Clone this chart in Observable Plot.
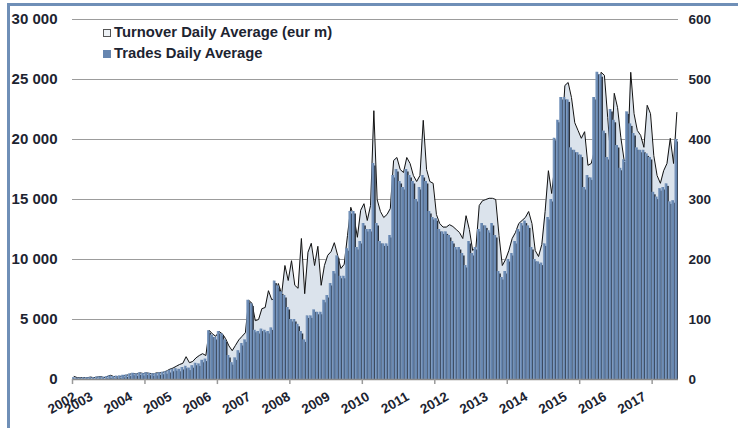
<!DOCTYPE html>
<html><head><meta charset="utf-8">
<script src="https://cdn.jsdelivr.net/npm/d3@7"></script>
<script src="https://cdn.jsdelivr.net/npm/@observablehq/plot@0.6"></script>
<style>
body{margin:0;background:#fff;}
#wrap{position:relative;width:738px;height:428px;overflow:hidden;font-family:"Liberation Sans",Arial,sans-serif;}
.frameTop{position:absolute;left:7px;top:3px;width:731px;height:3px;background:#6f8fb7;}
.frameLeft{position:absolute;left:7px;top:3px;width:3px;height:425px;background:#6f8fb7;}
.lg{position:absolute;left:103px;font-weight:bold;font-size:14.8px;color:#1d2431;height:20px;line-height:20px;white-space:nowrap;}
.sw{display:inline-block;width:8px;height:8px;margin-right:3px;box-sizing:border-box;}
</style></head>
<body><div id="wrap"><div class="frameTop"></div><div class="frameLeft"></div></div>
<script>
// Monthly series, Aug 2002 .. Dec 2017
const trades = [
150,120,130,150,160,
170,160,200,220,200,250,300,250,280,300,350,380,
450,520,480,550,500,560,520,480,500,560,600,650,
750,850,900,850,1000,1100,950,1150,1350,1300,1600,1700,
4050,3700,3500,4000,3800,3300,2000,1400,1800,2400,3000,3300,
6600,6300,4100,4000,4200,4100,4000,4300,8200,7800,7300,7000,
6000,5000,5000,4600,4000,3300,5300,5300,5800,5600,5600,6600,
7000,8000,9000,10300,8600,8600,10900,14000,14000,11000,11500,13000,
12500,12500,18000,13000,11500,11300,11300,12000,17000,17500,16500,16000,
17500,17000,16500,15000,16000,17000,16500,14000,13500,13400,12500,12300,
12300,12000,11500,11000,11000,10500,9500,11500,10500,11000,12500,13000,
12800,12400,13000,12000,9000,8500,9000,10000,10500,11500,12500,13000,
13200,12800,11000,10000,9800,9700,11300,13500,15000,20100,21600,23500,
23500,23300,19300,19100,18900,18700,16000,17000,16800,23500,25600,25400,
20700,18500,22500,21600,19500,17600,18300,22300,21300,20500,19300,19100,
19100,18800,18500,15600,15200,15900,16000,16300,14800,14900,20000
];
const turnover = [
5,3,3,3,3,
4,3,4,5,3,5,7,5,4,5,6,7,
9,10,9,11,10,11,10,9,11,11,12,14,
17,19,22,25,27,38,28,30,36,40,43,40,
82,76,72,80,76,68,56,48,57,66,72,78,
132,127,98,100,118,120,148,133,135,160,142,190,
165,198,157,152,235,143,212,227,190,222,157,190,
207,213,228,207,185,192,240,287,270,237,282,293,
265,290,448,300,280,270,275,285,365,370,350,345,
370,360,340,330,340,432,350,330,327,275,260,254,
254,258,255,250,245,235,273,250,215,220,290,298,
300,302,302,300,240,190,200,215,235,245,260,265,
270,280,260,215,205,225,280,348,310,360,403,400,
490,495,470,428,415,402,413,357,360,382,440,512,
507,437,365,477,453,403,365,365,512,443,415,407,
387,457,443,373,340,327,348,360,402,360,445,402
];
const yearLabels = ["2002","2003","2004","2005","2006","2007","2008","2009","2010","2011","2012","2013","2014","2015","2016","2017"];
const yearIdx = [0,5,17,29,41,53,65,77,89,101,113,125,137,149,161,173];
const tickIdx = [0,22,44,66,88,110,132,154,176];
const leftTicks = [0,5000,10000,15000,20000,25000,30000];
const rightTicks = [0,100,200,300,400,500,600];
const seriesNames = ["Turnover Daily Average (eur m)","Trades Daily Average"];

const ratio = 30000/600;
const n = trades.length;
const data = trades.map((t,i)=>({i, t, v: turnover[i]}));
const labels = yearLabels.map((l,k)=>({x: yearIdx[k]+0.5, l}));
const fmt = d => d===0 ? "0" : d3.format(",")(d).replace(/,/g," ");
const txt = "#1d2431";

const chart = Plot.plot({
  width:738, height:428, marginLeft:72, marginRight:60, marginTop:19, marginBottom:49,
  x:{type:"linear", domain:[0,n], axis:null, label:null},
  y:{type:"linear", domain:[0,30000], axis:null, label:null},
  style:{fontFamily:"'Liberation Sans', Arial, sans-serif", background:"transparent"},
  marks:[
    Plot.ruleY(leftTicks.filter(d=>d>0), {stroke:"#9c9c9c", strokeWidth:1}),
    Plot.areaY(data, {x:d=>d.i+0.5, y:d=>d.v*ratio, fill:"#dbe3ec"}),
    Plot.lineY(data, {x:d=>d.i+0.5, y:d=>d.v*ratio, stroke:"#111", strokeWidth:1}),
    Plot.rect(data, {x1:"i", x2:d=>d.i+1, y1:0, y2:"t", fill:"#2a313c", dx:1.2, dy:2.5, insetRight:0.5, clip:true}),
    Plot.rect(data, {x1:"i", x2:d=>d.i+1, y1:0, y2:"t", fill:"#6686b0", insetRight:0.7}),
    Plot.rect(data, {x1:"i", x2:d=>d.i+0.22, y1:0, y2:"t", fill:"#8ba5c7"}),
    Plot.ruleY([0], {stroke:"#8a8a8a", strokeWidth:1.5}),
    Plot.ruleX(tickIdx, {x:d=>d, y1:0, y2:-420, stroke:"#9a9a9a", strokeWidth:1.5}),
    Plot.axisY(leftTicks, {anchor:"left", label:null, tickSize:0, tickPadding:15, tickFormat:fmt, fontSize:15, fontWeight:"bold", fill:txt}),
    Plot.axisY(leftTicks, {anchor:"right", label:null, tickSize:0, tickPadding:10, tickFormat:(d)=>String(rightTicks[leftTicks.indexOf(d)]), fontSize:13.5, fontWeight:"bold", fill:txt}),
    Plot.text(labels, {x:"x", y:0, text:"l", rotate:-30, textAnchor:"end", dx:1, dy:16, fontSize:13.5, fontWeight:"bold", fill:txt})
  ]
});
const wrap = document.getElementById("wrap");
chart.style.position="absolute"; chart.style.left="0"; chart.style.top="0";
wrap.insertBefore(chart, wrap.firstChild);
// legend
const lg1 = document.createElement("div"); lg1.className="lg"; lg1.style.top="22px";
lg1.innerHTML = '<span class="sw" style="background:#eef2f6;border:1px solid #555"></span>'+seriesNames[0];
const lg2 = document.createElement("div"); lg2.className="lg"; lg2.style.top="43px";
lg2.innerHTML = '<span class="sw" style="background:#6686b0"></span>'+seriesNames[1];
wrap.appendChild(lg1); wrap.appendChild(lg2);
</script>
</body></html>
